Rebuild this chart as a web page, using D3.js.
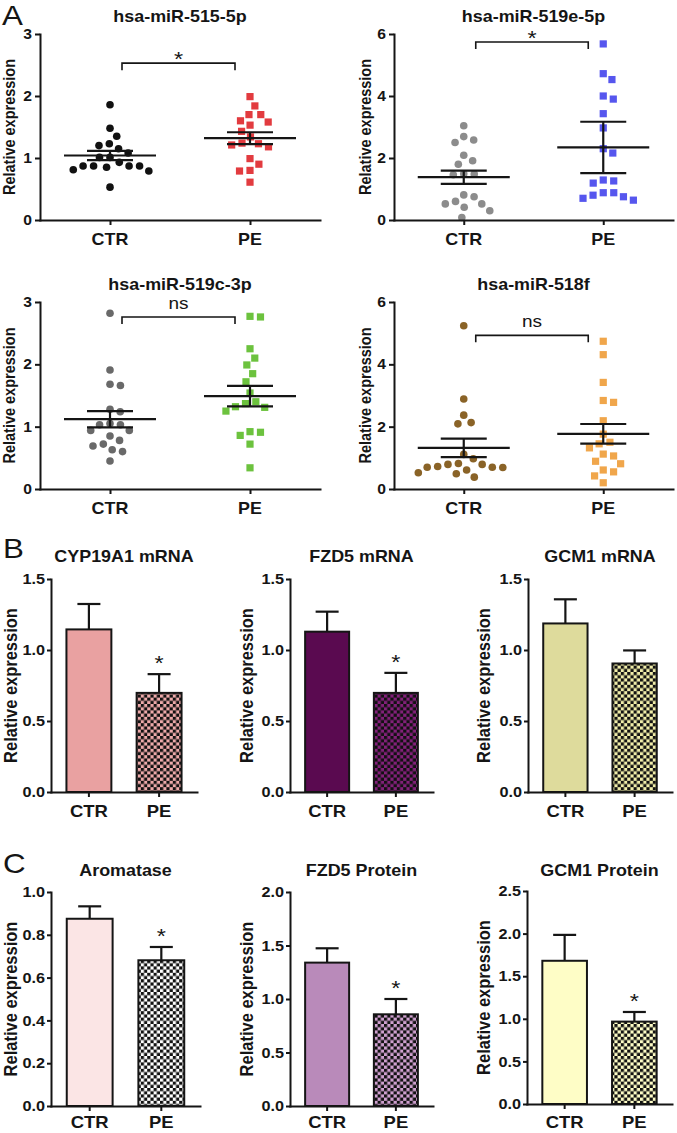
<!DOCTYPE html>
<html><head><meta charset="utf-8">
<script src="https://cdn.jsdelivr.net/npm/d3@7"></script>
<style>
body{margin:0;background:#fff}
svg{display:block}
text{font-family:"Liberation Sans",Arial,Helvetica,sans-serif;fill:#151515}
</style>
</head><body>
<svg id="c" width="677" height="1133"></svg>
<script>
// ---------------- DATA ----------------
const groups = ["CTR", "PE"];

// Panel A: scatter (relative expression per sample)
const miTitles = ["hsa-miR-515-5p", "hsa-miR-519e-5p", "hsa-miR-519c-3p", "hsa-miR-518f"];
const miMax = [3, 6, 3, 6];
const miTicks = [[0, 1, 2, 3], [0, 2, 4, 6], [0, 1, 2, 3], [0, 2, 4, 6]];
const mi515CTR = [1.86, 1.48, 1.35, 1.23, 1.20, 1.15, 1.08, 1.01, 1.01, 0.93, 0.87, 0.87, 0.87, 0.87, 0.85, 0.81, 0.79, 0.53];
const mi515PE  = [1.99, 1.84, 1.70, 1.70, 1.60, 1.58, 1.53, 1.43, 1.34, 1.24, 1.21, 1.23, 1.18, 0.99, 0.90, 0.80, 0.79, 0.61];
const mi519eCTR = [3.04, 2.69, 2.58, 2.50, 2.09, 1.91, 1.80, 1.49, 1.48, 1.46, 0.81, 0.75, 0.60, 0.52, 0.52, 0.41, 0.30, 0.08];
const mi519ePE  = [5.68, 4.72, 4.53, 4.00, 3.90, 3.43, 2.97, 2.30, 2.16, 1.29, 1.26, 1.19, 0.88, 0.88, 0.80, 0.75, 0.70, 0.64];
const mi519cCTR = [2.82, 1.91, 1.68, 1.66, 1.28, 1.24, 1.05, 1.03, 1.03, 0.94, 0.94, 0.85, 0.78, 0.72, 0.69, 0.63, 0.60, 0.45];
const mi519cPE  = [2.77, 2.76, 2.25, 2.10, 1.99, 1.85, 1.72, 1.54, 1.40, 1.37, 1.32, 1.31, 1.25, 0.92, 0.91, 0.86, 0.72, 0.34];
const mi518fCTR = [5.24, 2.89, 2.37, 2.13, 2.09, 1.11, 0.97, 0.82, 0.79, 0.79, 0.72, 0.70, 0.70, 0.69, 0.61, 0.52, 0.49, 0.38];
const mi518fPE  = [4.74, 4.31, 3.42, 2.84, 2.78, 2.19, 1.76, 1.50, 1.45, 1.32, 1.12, 1.06, 0.89, 0.81, 0.61, 0.55, 0.42, 0.20];
const miMean = [[1.04, 1.32], [1.38, 2.34], [1.12, 1.49], [1.32, 1.77]];
const miSEM  = [[0.075, 0.095], [0.215, 0.83], [0.13, 0.165], [0.295, 0.315]];
const miSig = ["*", "*", "ns", "ns"];
const miBracket = [2.53, 5.74, 2.76, 4.93];

// Panels B and C: bar charts (mean, SEM)
const barTitles = ["CYP19A1 mRNA", "FZD5 mRNA", "GCM1 mRNA", "Aromatase", "FZD5 Protein", "GCM1 Protein"];
const barMax = [1.5, 1.5, 1.5, 1.0, 2.0, 2.5];
const barTicks = [
  [0, 0.5, 1.0, 1.5], [0, 0.5, 1.0, 1.5], [0, 0.5, 1.0, 1.5],
  [0, 0.2, 0.4, 0.6, 0.8, 1.0], [0, 0.5, 1.0, 1.5, 2.0], [0, 0.5, 1.0, 1.5, 2.0, 2.5]];
const barMean = [[1.145, 0.698], [1.129, 0.698], [1.187, 0.905], [0.875, 0.681], [1.340, 0.857], [1.681, 0.967]];
const barSEM  = [[0.179, 0.132], [0.141, 0.141], [0.170, 0.092], [0.058, 0.062], [0.134, 0.143], [0.304, 0.113]];
const barSig = ["*", "*", "", "*", "*", "*"];

// ---------------- STYLES ----------------
const miColors = [["#111111", "#e23b3f"], ["#8c8c8c", "#5656ee"], ["#696969", "#6cc23e"], ["#8a6327", "#f0a64b"]];
const barCtrColors = ["#e9a1a1", "#5a0a50", "#dedb9c", "#fbe5e5", "#b98aba", "#fefdc6"];
const barPeColors  = ["#eeaaaa", "#83207a", "#f1eeaa", "#ffffff", "#cfa0cf", "#fefdc6"];

// ---------------- DRAW ----------------
const svg = d3.select("#c");
svg.append("rect").attr("width", 677).attr("height", 1133).attr("fill", "#fff");
const SX = 1.12;

function label(g, x, y, s, o = {}) {
  const tr = `translate(${x},${y})` + (o.rot ? ` rotate(-90) scale(1,${SX})` : ` scale(${SX},1)`);
  const t = g.append("text").attr("transform", tr)
    .attr("text-anchor", o.anchor || "middle")
    .attr("font-size", o.size || 16)
    .attr("font-weight", o.weight || "bold")
    .text(s);
  if (o.dy) t.attr("dy", o.dy);
  return t;
}

function styleAxis(g) {
  g.select(".domain").attr("stroke", "#151515").attr("stroke-width", 2).attr("stroke-linecap", "square");
  g.selectAll(".tick line").attr("stroke", "#151515").attr("stroke-width", 2);
  g.selectAll(".tick text").remove();
}

function swarm(vals, y, D) {
  const pts = vals.map(v => ({ v, y: y(v), dx: 0 })).sort((a, b) => a.y - b.y);
  const placed = [];
  for (const p of pts) {
    const forb = [];
    for (const q of placed) {
      const dy = Math.abs(q.y - p.y);
      if (dy < D) { const w = Math.sqrt(D * D - dy * dy); forb.push([q.dx - w, q.dx + w]); }
    }
    const cands = [0];
    forb.forEach(f => cands.push(f[0], f[1]));
    cands.sort((a, b) => Math.abs(a) - Math.abs(b) || b - a);
    for (const c of cands) {
      if (forb.every(f => c <= f[0] + 1e-6 || c >= f[1] - 1e-6)) { p.dx = c; break; }
    }
    placed.push(p);
  }
  return placed;
}

// Panel letters
label(svg, 2, 25, "A", { anchor: "start", size: 28, weight: "normal" });
label(svg, 3, 558, "B", { anchor: "start", size: 28, weight: "normal" });
label(svg, 3, 873, "C", { anchor: "start", size: 28, weight: "normal" });

// ---- Panel A ----
const miData = [[mi515CTR, mi515PE], [mi519eCTR, mi519ePE], [mi519cCTR, mi519cPE], [mi518fCTR, mi518fPE]];
const aBoxes = [
  { x0: 40, x1: 320, yT: 34, yB: 220, lx: 9 },
  { x0: 394, x1: 673, yT: 34, yB: 220, lx: 365 },
  { x0: 40, x1: 320, yT: 302, yB: 489, lx: 9 },
  { x0: 394, x1: 673, yT: 302, yB: 489, lx: 365 }];

aBoxes.forEach((b, i) => {
  const g = svg.append("g");
  const x = d3.scalePoint().domain(groups).range([b.x0, b.x1]).padding(0.5);
  const y = d3.scaleLinear().domain([0, miMax[i]]).range([b.yB, b.yT]);

  groups.forEach((grp, k) => {
    const pts = swarm(miData[i][k], y, 10.5);
    const col = miColors[i][k];
    if (k === 0) {
      g.selectAll(null).data(pts).join("circle")
        .attr("cx", d => x(grp) + d.dx).attr("cy", d => d.y).attr("r", 3.8).attr("fill", col);
    } else {
      g.selectAll(null).data(pts).join("rect")
        .attr("x", d => x(grp) + d.dx - 3.6).attr("y", d => d.y - 3.6)
        .attr("width", 7.2).attr("height", 7.2).attr("fill", col);
    }
  });

  groups.forEach((grp, k) => {
    const cx = x(grp), m = miMean[i][k], s = miSEM[i][k];
    const ln = (x1, y1, x2, y2) => g.append("line").attr("x1", x1).attr("y1", y1).attr("x2", x2).attr("y2", y2)
      .attr("stroke", "#151515").attr("stroke-width", 2.2);
    ln(cx - 46, y(m), cx + 46, y(m));
    ln(cx, y(m - s), cx, y(m + s));
    ln(cx - 23, y(m + s), cx + 23, y(m + s));
    ln(cx - 23, y(m - s), cx + 23, y(m - s));
  });

  const ga = g.append("g").attr("transform", `translate(${b.x0},0)`)
    .call(d3.axisLeft(y).tickValues(miTicks[i]).tickSize(5).tickSizeOuter(0));
  styleAxis(ga);
  const gb = g.append("g").attr("transform", `translate(0,${b.yB})`)
    .call(d3.axisBottom(x).tickSize(5).tickSizeOuter(0));
  styleAxis(gb);

  miTicks[i].forEach(t => label(g, b.x0 - 8, y(t), String(t), { anchor: "end", size: 14, dy: "0.36em" }));
  groups.forEach(grp => label(g, x(grp), b.yB + 25, grp, { size: 16 }));
  label(g, (b.x0 + b.x1) / 2, b.yT - 12, miTitles[i], { size: 16 });
  label(g, b.lx, (b.yT + b.yB) / 2, "Relative expression", { rot: true, size: 14.5, dy: "0.36em" });

  const by = y(miBracket[i]);
  const bx1 = x("CTR") + 12, bx2 = x("PE") - 15;
  g.append("path").attr("d", `M${bx1},${by + 7}V${by}H${bx2}V${by + 7}`)
    .attr("fill", "none").attr("stroke", "#151515").attr("stroke-width", 1.6);
  const sig = miSig[i];
  if (sig === "*") label(g, (bx1 + bx2) / 2, by + 3, sig, { size: 21, weight: "normal" });
  else label(g, (bx1 + bx2) / 2, by - 8, sig, { size: 17, weight: "normal" });
});

// ---- Panels B & C ----
const defs = svg.append("defs");
barPeColors.forEach((c, i) => {
  const p = defs.append("pattern").attr("id", "chk" + i).attr("patternUnits", "userSpaceOnUse")
    .attr("width", 6.4).attr("height", 6.4);
  p.append("rect").attr("width", 6.4).attr("height", 6.4).attr("fill", c);
  p.append("rect").attr("width", 3.2).attr("height", 3.2).attr("fill", "#111");
  p.append("rect").attr("x", 3.2).attr("y", 3.2).attr("width", 3.2).attr("height", 3.2).attr("fill", "#111");
});

const bBoxes = [
  { x0: 51, x1: 197, yT: 579, yB: 792, lx: 10, ty: 562, cy: 817 },
  { x0: 290, x1: 433, yT: 579, yB: 792, lx: 246, ty: 562, cy: 817 },
  { x0: 528, x1: 672, yT: 579, yB: 792, lx: 483, ty: 562, cy: 817 },
  { x0: 51, x1: 200, yT: 892, yB: 1106, lx: 10, ty: 876, cy: 1128 },
  { x0: 290, x1: 433, yT: 892, yB: 1106, lx: 246, ty: 876, cy: 1128 },
  { x0: 527, x1: 672, yT: 891, yB: 1104, lx: 483, ty: 876, cy: 1128 }];

bBoxes.forEach((b, i) => {
  const g = svg.append("g");
  const x = d3.scaleBand().domain(groups).range([b.x0, b.x1]).paddingInner(0.36).paddingOuter(0.22);
  const y = d3.scaleLinear().domain([0, barMax[i]]).range([b.yB, b.yT]);

  groups.forEach((grp, k) => {
    const m = barMean[i][k], s = barSEM[i][k];
    const cx = x(grp) + x.bandwidth() / 2;
    g.append("line").attr("x1", cx).attr("x2", cx).attr("y1", y(m)).attr("y2", y(m + s))
      .attr("stroke", "#151515").attr("stroke-width", 2.2);
    g.append("line").attr("x1", cx - 11.5).attr("x2", cx + 11.5).attr("y1", y(m + s)).attr("y2", y(m + s))
      .attr("stroke", "#151515").attr("stroke-width", 2.2);
    g.append("rect").attr("x", x(grp)).attr("width", x.bandwidth())
      .attr("y", y(m)).attr("height", y(0) - y(m))
      .attr("fill", k === 0 ? barCtrColors[i] : `url(#chk${i})`)
      .attr("stroke", "#151515").attr("stroke-width", 2);
    if (k === 1 && barSig[i]) {
      label(g, cx, y(m + s) - 4, barSig[i], { size: 21, weight: "normal" });
    }
  });

  const ga = g.append("g").attr("transform", `translate(${b.x0},0)`)
    .call(d3.axisLeft(y).tickValues(barTicks[i]).tickSize(4).tickSizeOuter(0));
  styleAxis(ga);
  const gb = g.append("g").attr("transform", `translate(0,${b.yB})`)
    .call(d3.axisBottom(x).tickSize(5).tickSizeOuter(0));
  styleAxis(gb);

  const fmt = d3.format(".1f");
  barTicks[i].forEach(t => label(g, b.x0 - 6, y(t), fmt(t), { anchor: "end", size: 14.5, dy: "0.36em" }));
  groups.forEach(grp => label(g, x(grp) + x.bandwidth() / 2, b.cy, grp, { size: 16.5 }));
  label(g, (b.x0 + b.x1) / 2, b.ty, barTitles[i], { size: 16 });
  label(g, b.lx, (b.yT + b.yB) / 2, "Relative expression", { rot: true, size: 16.5, dy: "0.36em" });
});
</script>
</body></html>
